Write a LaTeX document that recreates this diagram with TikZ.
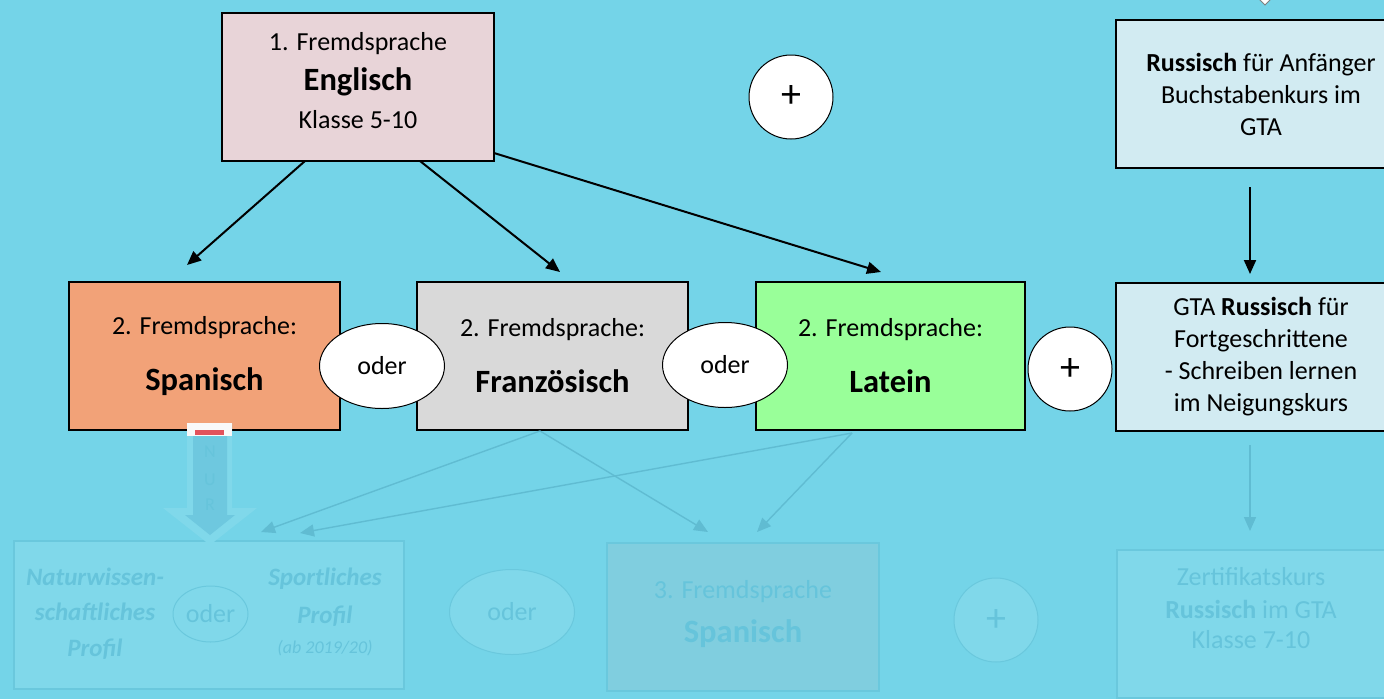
\documentclass[tikz,border=0pt]{standalone}
\usepackage{fontspec}
\setmainfont{Carlito}
\usetikzlibrary{shapes.geometric,arrows.meta}
\definecolor{bgc}{RGB}{116,212,232}
\definecolor{engc}{RGB}{232,212,216}
\definecolor{spac}{RGB}{242,162,120}
\definecolor{frac}{RGB}{217,217,217}
\definecolor{latc}{RGB}{153,255,153}
\definecolor{rusc}{RGB}{210,235,242}
\definecolor{fline}{RGB}{96,188,210}
\definecolor{ftext}{RGB}{102,196,219}
\definecolor{fborder}{RGB}{106,200,221}
\definecolor{ffill}{RGB}{128,216,234}
\definecolor{fs3fill}{RGB}{128,206,223}
\definecolor{nurin}{RGB}{110,200,223}
\definecolor{nurred}{RGB}{226,82,92}
\tikzset{
  box/.style={draw=black, line width=1.6pt, minimum height=148pt, inner sep=0pt, align=center,
    font=\fontsize{26}{32}\selectfont},
  fbox/.style={draw=fborder, line width=1.2pt, minimum height=148pt, inner sep=0pt, align=center,
    text=ftext, font=\fontsize{26}{32}\selectfont},
  odernode/.style={ellipse, draw=black, line width=1pt, fill=white, minimum width=125pt,
    minimum height=85pt, inner sep=0pt, font=\fontsize{26}{32}\selectfont},
  plusnode/.style={circle, draw=black, line width=1pt, fill=white, minimum size=84pt,
    inner sep=0pt, font=\fontsize{40}{44}\selectfont},
  fodernode/.style={ellipse, draw=fborder, line width=1pt, fill=ffill, inner sep=0pt,
    text=ftext, font=\fontsize{26}{32}\selectfont},
  ftxt/.style={text=ftext, inner sep=0pt, font=\fontsize{25}{30}\selectfont\bfseries\itshape},
  txtonly/.style={inner sep=0pt, align=center, font=\fontsize{26}{32}\selectfont},
  conn/.style={line width=2pt, draw=black, -{Triangle[length=14pt,width=12pt]}},
  fconn/.style={line width=1.4pt, draw=fline, -{Triangle[length=14pt,width=12pt]}},
}
\begin{document}
\begin{tikzpicture}[x=1pt,y=-1pt]
\clip (0,0) rectangle (1384,699);
\fill[bgc] (0,0) rectangle (1384,699);

% top partial white tip
\filldraw[fill=white, draw=gray, line width=0.8pt] (1254,-6) -- (1276,-6) -- (1265,5) -- cycle;

% ---------- faint lower part ----------
\node[fbox, fill=ffill, minimum width=390pt] (prof) at (209,615) {};
\node[fodernode, minimum width=75pt, minimum height=56pt] (oderp) at (210.5,614) {oder};
\node[ftxt] (nat1) at (95,577) {Naturwissen-};
\node[ftxt] (nat2) at (95,612) {schaftliches};
\node[ftxt] (nat3) at (95,649) {Profil};
\node[ftxt] (spo1) at (325,579) {Sportliches};
\node[ftxt] (spo2) at (325,616) {Profil};
\node[ftxt, font=\fontsize{18}{22}\selectfont\itshape] (spo3) at (325,648) {(ab 2019/20)};

\node[fodernode, minimum width=125pt, minimum height=85pt] (oderf) at (512,612) {oder};

\node[fbox, fill=fs3fill, minimum width=272pt] (fs3) at (743,617) {};
\node[txtonly, text=ftext] (fs3a) at (743,592) {3. Fremdsprache};
\node[txtonly, text=ftext, font=\fontsize{32.5}{38}\selectfont\bfseries] (fs3b) at (743,634) {Spanisch};

\node[circle, draw=fborder, line width=1pt, fill=ffill, minimum size=84pt, inner sep=0pt,
  text=ftext, font=\fontsize{40}{44}\selectfont] (plusf) at (996,620) {+};

\node[fbox, fill=ffill, minimum width=290pt] (zert) at (1262,624) {};
\node[txtonly, text=ftext] (zt1) at (1251,577) {Zertifikatskurs};
\node[txtonly, text=ftext] (zt2) at (1251,609) {\textbf{Russisch} im GTA};
\node[txtonly, text=ftext] (zt3) at (1251,640) {Klasse 7-10};

% ---------- upper part ----------
\node[box, fill=engc, minimum width=272pt] (eng) at (358,87) {};
\node[txtonly] (engt) at (358,81)
  {1. Fremdsprache\\[8pt]{\fontsize{32.5}{38}\selectfont\bfseries Englisch}\\[6pt]Klasse 5-10};
\node[plusnode] (plus1) at (791,97) {+};
\node[box, fill=rusc, minimum width=290pt] (rus1) at (1261,94)
  {\textbf{Russisch} für Anfänger\\Buchstabenkurs im\\GTA};

\node[box, fill=spac, minimum width=271pt] (spa) at (204.5,356)
  {2. Fremdsprache:\\[24pt]{\fontsize{32.5}{38}\selectfont\bfseries Spanisch}};
\node[box, fill=frac, minimum width=271pt] (fra) at (552.5,356)
  {2. Fremdsprache:\\[24pt]{\fontsize{32.5}{38}\selectfont\bfseries Französisch}};
\node[box, fill=latc, minimum width=269pt] (lat) at (890.5,356)
  {2. Fremdsprache:\\[24pt]{\fontsize{32.5}{38}\selectfont\bfseries Latein}};
\node[box, fill=rusc, minimum width=290pt] (gta) at (1261,357)
  {GTA \textbf{Russisch} für\\Fortgeschrittene\\- Schreiben lernen\\im Neigungskurs};

\node[odernode] (oder1) at (382,366) {oder};
\node[odernode] (oder2) at (725,365) {oder};
\node[plusnode] (plus2) at (1070,369) {+};

% NUR arrow
\fill[ffill] (187,423) -- (232,423) -- (232,508) -- (257,508) -- (210,545) -- (163,508) -- (187,508) -- cycle;
\fill[nurin] (193,435) -- (227,435) -- (227,515) -- (235,515) -- (210,535) -- (185,515) -- (193,515) -- cycle;
\fill[white!95!gray] (187,423) rectangle (232,436);
\fill[nurred] (195,430) rectangle (224,435);
\node[text=ftext, inner sep=0pt, font=\fontsize{18}{22}\selectfont] (nur1) at (210,452) {N};
\node[text=ftext, inner sep=0pt, font=\fontsize{18}{22}\selectfont] (nur2) at (210,480) {U};
\node[text=ftext, inner sep=0pt, font=\fontsize{18}{22}\selectfont] (nur3) at (210,505) {R};

% coordinates for connectors
\coordinate (e1) at (305,161);
\coordinate (e2) at (420,161);
\coordinate (e3) at (494,153);
\coordinate (spaT) at (187,265);
\coordinate (fraT) at (560,272);
\coordinate (latT) at (881,272);
\coordinate (r1b) at (1250,187);
\coordinate (gtaT) at (1250,274);
\coordinate (frB) at (540,431);
\coordinate (laB) at (852,433);
\coordinate (profT1) at (261,532);
\coordinate (profT2) at (300,533);
\coordinate (fs3T1) at (708,532);
\coordinate (fs3T2) at (757,532);
\coordinate (gtaB) at (1250,445);
\coordinate (zertT) at (1250,531);

\draw[conn] (e1) -- (spaT);
\draw[conn] (e2) -- (fraT);
\draw[conn] (e3) -- (latT);
\draw[conn] (r1b) -- (gtaT);

\draw[fconn] (frB) -- (profT1);
\draw[fconn] (laB) -- (profT2);
\draw[fconn] (frB) -- (fs3T1);
\draw[fconn] (laB) -- (fs3T2);
\draw[fconn] (gtaB) -- (zertT);
\end{tikzpicture}
\end{document}
